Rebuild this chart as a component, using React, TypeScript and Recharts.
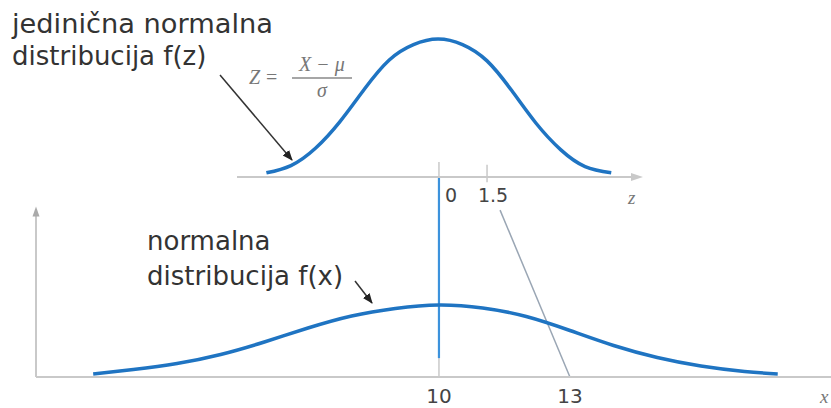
import React from "react";
import { LineChart, Line, XAxis, YAxis, ReferenceLine, ReferenceDot } from "recharts";

// standard normal f(z)
const Z_VALUES = [-5.25, -4.5, -3.75, -3, -2.25, -1.5, -0.75, 0, 0.75, 1.5, 2.25, 3, 3.75, 4.5, 5.3];
const FZ_VALUES = [0.012, 0.033, 0.083, 0.16, 0.254, 0.337, 0.382, 0.398, 0.382, 0.335, 0.25, 0.155, 0.079, 0.03, 0.012];
const Z_TICKS = [0, 1.5];
const Z_DOMAIN = [-6.15, 6.18];

// normal f(x), mean 10
const X_VALUES = [2.08, 3, 4, 5, 6, 7, 8, 9, 10, 11, 12, 13, 14, 15, 16, 17, 17.76];
const FX_VALUES = [0.0056, 0.0139, 0.025, 0.0417, 0.0648, 0.0907, 0.113, 0.1269, 0.1333, 0.1278, 0.112, 0.0861, 0.0583, 0.0361, 0.0204, 0.0102, 0.0056];
const X_TICKS = [10, 13];
const X_DOMAIN = [0.77, 18.98];

const MEAN = 10;
const Z_MARK = 1.5;
const X_MARK = 13;

const topData = Z_VALUES.map((z, i) => ({ z, f: FZ_VALUES[i] }));
const bottomData = X_VALUES.map((x, i) => ({ x, f: FX_VALUES[i] }));

const CURVE = "#1f74c2";
const AXIS = "#c9c9c9";
const LABEL = "#444";
const FONT = "'DejaVu Sans', sans-serif";
const SERIF = "'Liberation Serif', serif";

const zLabelShift: Record<number, number> = { 0: 13, 1.5: 6 };

function TopTick(props: any) {
  const { x, y, payload } = props;
  return (
    <text x={x + (zLabelShift[payload.value] ?? 0)} y={y + 17} textAnchor="middle" fontFamily={FONT} fontSize={19} fill={LABEL}>
      {payload.value}
    </text>
  );
}

function BottomTick(props: any) {
  const { x, y, payload } = props;
  return (
    <text x={x} y={y + 18} textAnchor="middle" fontFamily={FONT} fontSize={20} fill={LABEL}>
      {payload.value}
    </text>
  );
}

const rightArrow = (p: any) => (
  <polygon points={`${p.cx - 9},${p.cy - 4} ${p.cx + 3},${p.cy} ${p.cx - 9},${p.cy + 4}`} fill={AXIS} />
);
const upArrow = (p: any) => (
  <polygon points={`${p.cx - 3.5},${p.cy + 7} ${p.cx},${p.cy - 3} ${p.cx + 3.5},${p.cy + 7}`} fill="#aaa" />
);

export default function App() {
  return (
    <div style={{ position: "absolute", left: 0, top: 0, width: 831, height: 408, background: "#fff", overflow: "hidden" }}>
      <div style={{ position: "absolute", left: 0, top: 0 }}>
        <LineChart width={831} height={408} data={bottomData} margin={{ top: 161, right: 0, bottom: 1, left: 36 }}>
          <XAxis
            dataKey="x"
            type="number"
            domain={X_DOMAIN}
            allowDataOverflow
            ticks={X_TICKS}
            tickLine={false}
            axisLine={{ stroke: AXIS, strokeWidth: 2 }}
            tick={<BottomTick />}
            height={30}
            label={(p: any) => (
              <text x={p.viewBox.x + p.viewBox.width - 11} y={p.viewBox.y + 26} fontFamily={SERIF} fontStyle="italic" fontSize={19} fill="#777">
                x
              </text>
            )}
          />
          <YAxis hide type="number" domain={[0, 0.4]} allowDataOverflow />
          <ReferenceLine segment={[{ x: X_DOMAIN[0], y: 0 }, { x: X_DOMAIN[0], y: 0.305 }]} stroke={AXIS} strokeWidth={2} ifOverflow="visible" />
          <ReferenceDot x={X_DOMAIN[0]} y={0.31} ifOverflow="visible" shape={upArrow} />
          <ReferenceLine segment={[{ x: MEAN, y: 0 }, { x: MEAN, y: 0.398 }]} stroke={AXIS} strokeWidth={1.5} ifOverflow="visible" />
          <ReferenceLine segment={[{ x: MEAN, y: 0.035 }, { x: MEAN, y: 0.37 }]} stroke="#3c92dc" strokeWidth={2.2} ifOverflow="visible" />
          <ReferenceLine segment={[{ x: 11.4, y: 0.309 }, { x: X_MARK, y: 0 }]} stroke="#9aa6b4" strokeWidth={1.5} ifOverflow="visible" />
          <Line type="natural" dataKey="f" stroke={CURVE} strokeWidth={3.5} dot={false} isAnimationActive={false} />
        </LineChart>
      </div>
      <div style={{ position: "absolute", left: 0, top: 0 }}>
        <LineChart width={831} height={408} data={topData} margin={{ top: 21, right: 191, bottom: 201, left: 237 }}>
          <XAxis
            dataKey="z"
            type="number"
            domain={Z_DOMAIN}
            allowDataOverflow
            ticks={Z_TICKS}
            tickLine={false}
            axisLine={{ stroke: AXIS, strokeWidth: 2 }}
            tick={<TopTick />}
            height={30}
            label={(p: any) => (
              <text x={p.viewBox.x + p.viewBox.width - 12} y={p.viewBox.y + 27} fontFamily={SERIF} fontStyle="italic" fontSize={19} fill="#777">
                z
              </text>
            )}
          />
          <YAxis hide type="number" domain={[0, 0.45]} allowDataOverflow />
          <ReferenceDot x={Z_DOMAIN[1]} y={0} ifOverflow="visible" shape={rightArrow} />
          <ReferenceLine segment={[{ x: Z_MARK, y: -0.015 }, { x: Z_MARK, y: 0.035 }]} stroke={AXIS} strokeWidth={1.5} ifOverflow="visible" />
          <Line type="natural" dataKey="f" stroke={CURVE} strokeWidth={3.5} dot={false} isAnimationActive={false} />
        </LineChart>
      </div>
      <svg width={831} height={408} style={{ position: "absolute", left: 0, top: 0, pointerEvents: "none" }}>
        <defs>
          <marker id="arrowHead" viewBox="0 0 10 10" refX="9" refY="5" markerWidth="7" markerHeight="7" orient="auto">
            <path d="M0,1 L10,5 L0,9 z" fill="#222" />
          </marker>
        </defs>
        <g fontFamily={FONT} fontSize={26} fill="#333">
          <text x={12} y={33} textLength={261} lengthAdjust="spacingAndGlyphs">jedinična normalna</text>
          <text x={12} y={65}>distribucija f(z)</text>
          <text x={147} y={250}>normalna</text>
          <text x={147} y={285}>distribucija f(x)</text>
        </g>
        <g fontFamily={SERIF} fill="#777" fontSize={20}>
          <text x={249} y={84} fontStyle="italic">Z</text>
          <text x={266} y={84}>=</text>
          <text x={322} y={71} textAnchor="middle" fontStyle="italic">X − μ</text>
          <line x1={292} y1={78} x2={352} y2={78} stroke="#888" strokeWidth={1.4} />
          <text x={322} y={97} textAnchor="middle" fontStyle="italic">σ</text>
        </g>
        <line x1={220} y1={75} x2={292} y2={160} stroke="#333" strokeWidth={1.5} markerEnd="url(#arrowHead)" />
        <line x1={355} y1={281} x2={372} y2={303} stroke="#333" strokeWidth={1.5} markerEnd="url(#arrowHead)" />
      </svg>
    </div>
  );
}
